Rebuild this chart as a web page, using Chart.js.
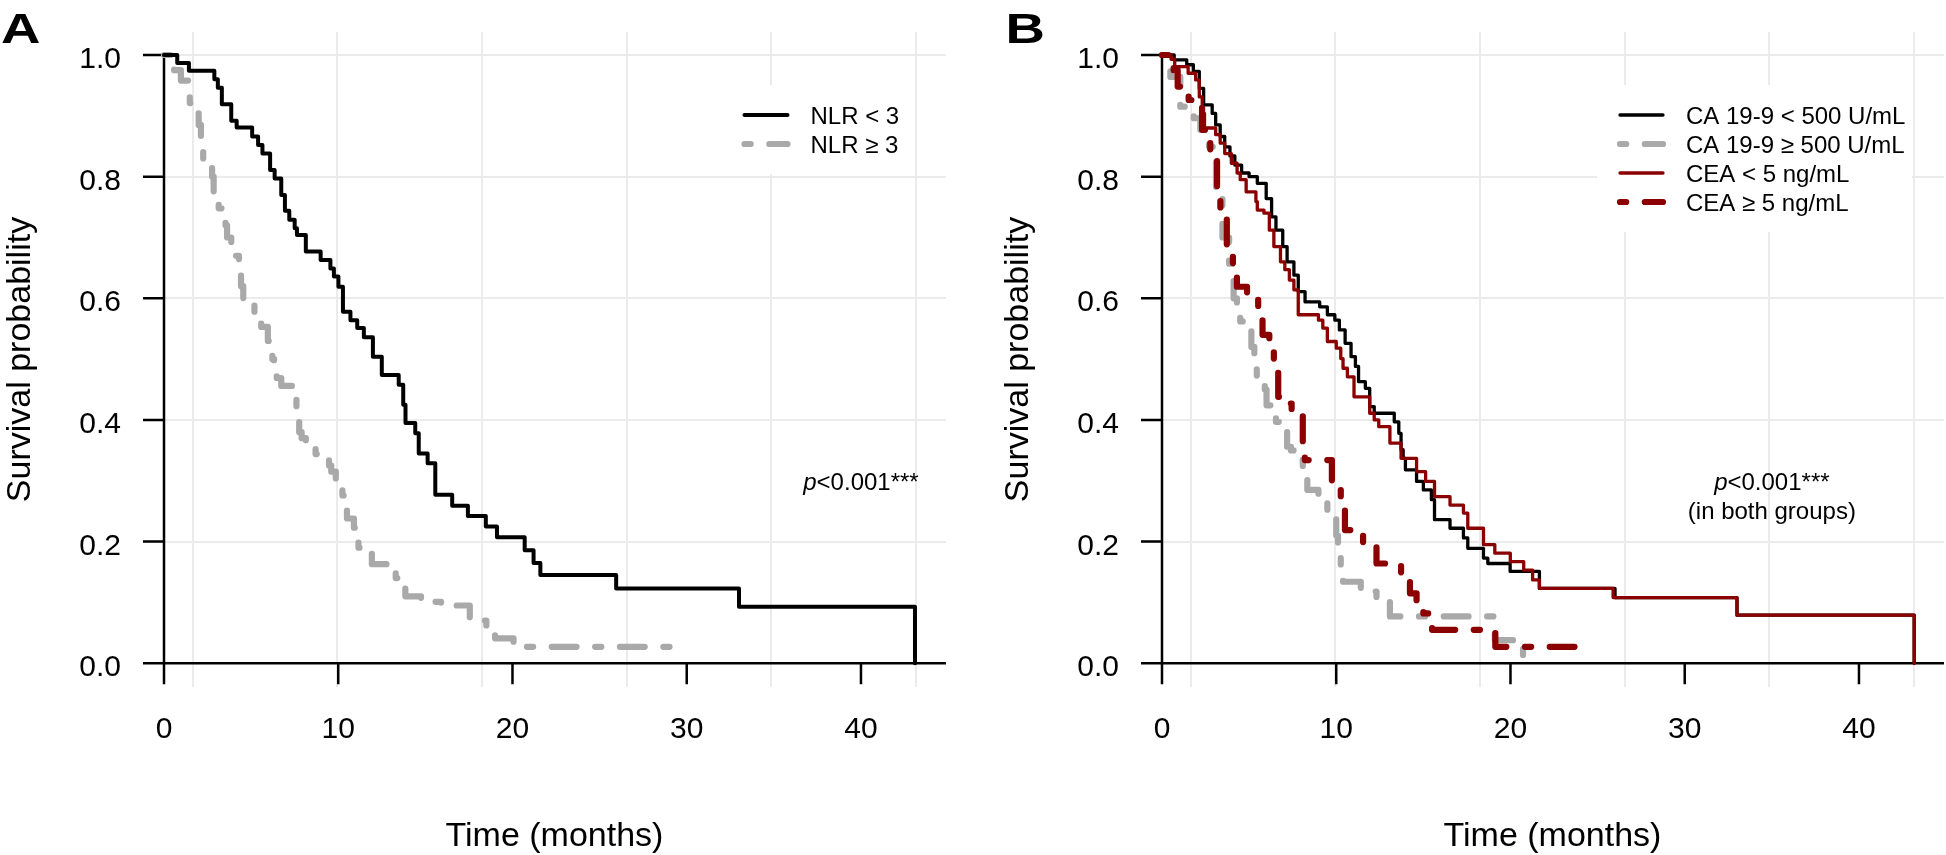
<!DOCTYPE html>
<html>
<head>
<meta charset="utf-8">
<script src="https://cdn.jsdelivr.net/npm/chart.js@4"></script>
<style>
  body { margin: 0; background: #ffffff; width: 1946px; height: 855px; position: relative; overflow: hidden; }
  canvas { position: absolute; top: 0; }
  #chartA { left: 0; }
  #chartB { left: 998px; }
</style>
</head>
<body>
<canvas id="chartA" width="948" height="855"></canvas>
<canvas id="chartB" width="948" height="855"></canvas>
<script>
// Panel A: Kaplan-Meier by NLR (time in months, survival probability)
const nlrLowTime = [0, 0.76, 1.43, 2.89, 3.09, 3.32, 3.86, 4.17, 5.06, 5.4, 5.65, 6.09, 6.35, 6.73, 6.94, 7.19, 7.5, 7.63, 8.14, 8.99, 9.55, 9.75, 10.01, 10.27, 10.7, 11.09, 11.47, 11.99, 12.5, 13.47, 13.73, 13.86, 14.42, 14.62, 15.13, 15.57, 16.54, 17.44, 18.47, 19.11, 20.7, 21.21, 21.6, 25.95, 33.0, 43.1];
const nlrLowSurv = [1, 0.987, 0.974, 0.960, 0.946, 0.919, 0.892, 0.881, 0.866, 0.852, 0.838, 0.811, 0.797, 0.770, 0.744, 0.729, 0.715, 0.704, 0.677, 0.663, 0.649, 0.636, 0.619, 0.578, 0.564, 0.551, 0.536, 0.504, 0.474, 0.458, 0.425, 0.395, 0.378, 0.345, 0.329, 0.277, 0.259, 0.242, 0.225, 0.207, 0.186, 0.165, 0.145, 0.123, 0.093, 0];
const nlrHighTime = [0, 0.58, 0.97, 1.48, 1.99, 2.12, 2.25, 2.76, 2.85, 3.14, 3.53, 3.62, 3.86, 4.30, 4.42, 4.55, 5.19, 5.58, 5.96, 6.22, 6.32, 6.47, 6.73, 7.37, 7.6, 7.76, 7.9, 8.14, 8.7, 9.47, 9.6, 9.86, 10.24, 10.35, 10.5, 10.9, 11.0, 11.16, 11.93, 13.2, 13.3, 13.85, 14.75, 15.9, 17.55, 18.5, 19.0, 20.06, 29.5];
const nlrHighSurv = [1, 0.975, 0.958, 0.921, 0.885, 0.85, 0.827, 0.80, 0.77, 0.748, 0.72, 0.70, 0.67, 0.645, 0.62, 0.60, 0.578, 0.553, 0.53, 0.50, 0.485, 0.469, 0.456, 0.435, 0.415, 0.38, 0.37, 0.36, 0.344, 0.325, 0.315, 0.299, 0.276, 0.268, 0.238, 0.223, 0.215, 0.19, 0.163, 0.15, 0.14, 0.11, 0.101, 0.095, 0.07, 0.055, 0.041, 0.027, 0.027];

// Panel B: Kaplan-Meier by CA 19-9 and CEA
const ca199LowTime = [0, 0.70, 1.42, 1.80, 2.14, 2.39, 2.88, 3.08, 3.34, 3.6, 3.9, 4.18, 4.57, 5.0, 5.47, 5.98, 6.29, 6.54, 6.93, 7.18, 7.57, 7.82, 8.21, 9.05, 9.49, 9.92, 10.18, 10.51, 10.85, 11.1, 11.28, 11.67, 11.92, 12.18, 13.33, 13.59, 13.72, 13.84, 13.97, 14.61, 15.0, 15.46, 15.64, 16.53, 17.3, 17.55, 18.45, 18.7, 19.98, 21.66, 26.0, 33.0, 43.17];
const ca199LowSurv = [1, 0.992, 0.984, 0.973, 0.945, 0.918, 0.904, 0.885, 0.866, 0.849, 0.834, 0.819, 0.806, 0.800, 0.789, 0.764, 0.734, 0.712, 0.685, 0.660, 0.638, 0.611, 0.594, 0.586, 0.573, 0.564, 0.548, 0.526, 0.504, 0.488, 0.463, 0.452, 0.422, 0.411, 0.397, 0.378, 0.351, 0.337, 0.318, 0.299, 0.285, 0.269, 0.236, 0.222, 0.206, 0.189, 0.173, 0.164, 0.151, 0.123, 0.108, 0.079, 0];
const ca199HighTime = [0, 0.48, 1.05, 1.82, 2.2, 2.7, 3.1, 3.47, 3.85, 4.11, 4.3, 4.49, 5.13, 5.3, 5.44, 5.9, 6.0, 6.54, 7.18, 7.4, 7.57, 8.08, 8.34, 8.98, 9.49, 10.0, 10.1, 10.26, 10.39, 11.41, 12.31, 13.08, 19.1, 20.72];
const ca199HighSurv = [1, 0.964, 0.915, 0.896, 0.877, 0.849, 0.78, 0.70, 0.657, 0.60, 0.59, 0.562, 0.52, 0.509, 0.471, 0.45, 0.424, 0.397, 0.356, 0.35, 0.345, 0.315, 0.285, 0.268, 0.244, 0.21, 0.192, 0.157, 0.134, 0.118, 0.104, 0.077, 0.038, 0];
const ceaLowTime = [0, 0.52, 0.73, 1.5, 1.93, 2.14, 2.31, 2.44, 3.08, 3.34, 3.6, 3.98, 4.31, 4.49, 4.83, 5.39, 5.47, 5.85, 6.16, 6.42, 6.8, 7.05, 7.31, 7.57, 7.82, 8.98, 9.23, 9.49, 10.0, 10.26, 10.39, 10.64, 11.02, 11.92, 12.18, 12.44, 13.08, 13.72, 14.61, 15.13, 15.64, 16.53, 17.3, 17.55, 18.45, 19.1, 19.99, 20.76, 21.27, 21.66, 25.89, 33.0, 43.17];
const ceaLowSurv = [1, 0.993, 0.981, 0.970, 0.959, 0.931, 0.904, 0.880, 0.869, 0.855, 0.838, 0.822, 0.806, 0.795, 0.775, 0.759, 0.745, 0.740, 0.712, 0.685, 0.660, 0.647, 0.630, 0.614, 0.573, 0.564, 0.551, 0.529, 0.518, 0.501, 0.485, 0.471, 0.438, 0.411, 0.400, 0.389, 0.362, 0.337, 0.315, 0.299, 0.274, 0.260, 0.247, 0.222, 0.195, 0.181, 0.167, 0.153, 0.137, 0.123, 0.108, 0.079, 0];
const ceaHighTime = [0, 0.67, 0.9, 1.53, 2.3, 2.77, 3.16, 3.35, 3.72, 4.07, 4.3, 4.88, 5.52, 5.77, 6.16, 6.42, 6.67, 6.93, 7.44, 8.08, 8.2, 9.75, 10.26, 10.5, 11.54, 12.31, 13.72, 14.23, 14.61, 15.0, 15.5, 19.13, 24.1];
const ceaHighSurv = [1, 0.975, 0.948, 0.926, 0.877, 0.844, 0.783, 0.745, 0.685, 0.658, 0.619, 0.60, 0.586, 0.54, 0.531, 0.50, 0.438, 0.427, 0.41, 0.359, 0.334, 0.30, 0.27, 0.219, 0.192, 0.164, 0.142, 0.115, 0.099, 0.082, 0.055, 0.027, 0.027];

// Axis ticks
const xTicks = [0, 10, 20, 30, 40];
const xTickLabels = ['0', '10', '20', '30', '40'];
const yTicks = [0, 0.2, 0.4, 0.6, 0.8, 1.0];
const yTickLabels = ['0.0', '0.2', '0.4', '0.6', '0.8', '1.0'];

const FONT = '"Liberation Sans", Arial, Helvetica, sans-serif';
const GREY = '#a9a9a9';
const DARKRED = '#8b0000';

// Turn a time array and a survival array into chart points
function toPoints(times, surv) {
  return times.map((t, i) => ({ x: t, y: surv[i] }));
}

// R style "dotdash" line (1 on, 3 off, 4 on, 3 off) in units of line width
function dotDash(w) {
  return [w, 3 * w, 4 * w, 3 * w];
}

function makeDataset(label, times, surv, color, width, dashed, order) {
  return {
    label: label,
    data: toPoints(times, surv),
    borderColor: color,
    borderWidth: width,
    borderDash: dashed ? dotDash(width) : [],
    borderCapStyle: 'round',
    borderJoinStyle: 'round',
    stepped: true,
    pointRadius: 0,
    fill: false,
    order: order
  };
}

// Plugin that draws axes, tick labels, titles, legend and annotation
const decor = {
  id: 'decor',
  beforeDatasetsDraw(chart, args, opts) {
    const ctx = chart.ctx;
    const area = chart.chartArea;
    const x = chart.scales.x;
    const y = chart.scales.y;
    const x0 = x.getPixelForValue(0);
    const y0 = y.getPixelForValue(0);
    const y1 = y.getPixelForValue(1);
    const sets = chart.data.datasets;
    ctx.save();

    // Legend: white box hides the grid behind it
    const lx = opts.legendX, ly = opts.legendY, step = 29;
    ctx.fillStyle = '#ffffff';
    ctx.fillRect(lx - 23, ly - 30, opts.legendW, (sets.length - 1) * step + 60);
    ctx.font = '24px ' + FONT;
    ctx.textAlign = 'left';
    ctx.textBaseline = 'alphabetic';
    sets.forEach((ds, i) => {
      const ry = ly + i * step;
      ctx.strokeStyle = ds.borderColor;
      ctx.lineWidth = ds.borderWidth;
      ctx.lineCap = 'round';
      ctx.setLineDash(ds.borderDash);
      ctx.beginPath();
      ctx.moveTo(lx, ry);
      ctx.lineTo(lx + 43, ry);
      ctx.stroke();
      ctx.setLineDash([]);
      ctx.fillStyle = '#000000';
      ctx.fillText(ds.label, lx + 66, ry + 8.5);
    });

    // Axis lines and tick marks
    ctx.strokeStyle = '#000000';
    ctx.lineWidth = 2.5;
    ctx.lineCap = 'butt';
    ctx.beginPath();
    ctx.moveTo(area.left, y0);
    ctx.lineTo(area.right, y0);
    ctx.moveTo(x0, y1);
    ctx.lineTo(x0, y0);
    xTicks.forEach(v => {
      const px = x.getPixelForValue(v);
      ctx.moveTo(px, y0);
      ctx.lineTo(px, y0 + 21);
    });
    yTicks.forEach(v => {
      const py = y.getPixelForValue(v);
      ctx.moveTo(x0, py);
      ctx.lineTo(x0 - 21, py);
    });
    ctx.stroke();

    // Tick labels
    ctx.fillStyle = '#000000';
    ctx.font = '30px ' + FONT;
    ctx.textAlign = 'center';
    xTicks.forEach((v, i) => ctx.fillText(xTickLabels[i], x.getPixelForValue(v), y0 + 75));
    ctx.textAlign = 'right';
    yTicks.forEach((v, i) => ctx.fillText(yTickLabels[i], x0 - 43, y.getPixelForValue(v) + 13));

    // Axis titles
    ctx.font = '34px ' + FONT;
    ctx.textAlign = 'center';
    ctx.fillText('Time (months)', (area.left + area.right) / 2 + 10, 846);
    ctx.save();
    ctx.translate(30, (area.top + area.bottom) / 2);
    ctx.rotate(-Math.PI / 2);
    ctx.fillText('Survival probability', 0, 0);
    ctx.restore();

    // p-value note: italic "p" followed by normal text
    const px = x.getPixelForValue(opts.pAt);
    let py = y.getPixelForValue(0.3) + 9;
    ctx.textAlign = 'left';
    ctx.font = 'italic 24px ' + FONT;
    const wp = ctx.measureText('p').width;
    ctx.font = '24px ' + FONT;
    const wr = ctx.measureText('<0.001***').width;
    let sx = px - (wp + wr) / 2;
    ctx.font = 'italic 24px ' + FONT;
    ctx.fillText('p', sx, py);
    ctx.font = '24px ' + FONT;
    ctx.fillText('<0.001***', sx + wp, py);
    ctx.textAlign = 'center';
    opts.pExtra.forEach(line => {
      py += 29;
      ctx.fillText(line, px, py);
    });

    // Panel letter
    ctx.save();
    ctx.font = 'bold 42px ' + FONT;
    ctx.textAlign = 'left';
    ctx.translate(opts.letterX, 43);
    ctx.scale(1.3, 1);
    ctx.fillText(opts.letter, 0, 0);
    ctx.restore();

    ctx.restore();
  }
};

// Grid lines of the background sit every 8.3 months starting at 1.65
function gridTicks(scale) {
  const ticks = [];
  for (let k = 0; k < 6; k++) {
    ticks.push({ value: 1.65 + 8.3 * k });
  }
  scale.ticks = ticks;
}

function makeChart(canvasId, datasets, decorOptions) {
  const ctx = document.getElementById(canvasId);
  return new Chart(ctx, {
    type: 'line',
    data: { datasets: datasets },
    plugins: [decor],
    options: {
      responsive: false,
      animation: false,
      layout: { padding: { left: 143, right: 2, top: 32, bottom: 168 } },
      scales: {
        x: {
          type: 'linear',
          min: -1.205,
          max: 44.88,
          afterBuildTicks: gridTicks,
          ticks: { display: false },
          border: { display: false },
          grid: { color: '#ebebeb', lineWidth: 2, drawTicks: false }
        },
        y: {
          type: 'linear',
          min: -0.039,
          max: 1.0378,
          afterBuildTicks: scale => { scale.ticks = yTicks.map(v => ({ value: v })); },
          ticks: { display: false },
          border: { display: false },
          grid: { color: '#ebebeb', lineWidth: 2, drawTicks: false }
        }
      },
      plugins: {
        legend: { display: false },
        tooltip: { enabled: false },
        decor: decorOptions
      }
    }
  });
}

makeChart('chartA', [
  makeDataset('NLR < 3', nlrLowTime, nlrLowSurv, '#000000', 4, false, 1),
  makeDataset('NLR \u2265 3', nlrHighTime, nlrHighSurv, GREY, 6.2, true, 2)
], { letter: 'A', letterX: 1, legendX: 744.5, legendY: 115, legendW: 183, pAt: 40, pExtra: [] });

makeChart('chartB', [
  makeDataset('CA 19-9 < 500 U/mL', ca199LowTime, ca199LowSurv, '#000000', 3.3, false, 4),
  makeDataset('CA 19-9 \u2265 500 U/mL', ca199HighTime, ca199HighSurv, GREY, 6.2, true, 3),
  makeDataset('CEA < 5 ng/mL', ceaLowTime, ceaLowSurv, DARKRED, 3.3, false, 2),
  makeDataset('CEA \u2265 5 ng/mL', ceaHighTime, ceaHighSurv, DARKRED, 6.2, true, 1)
], { letter: 'B', letterX: 7.6, legendX: 622, legendY: 115, legendW: 315, pAt: 35, pExtra: ['(in both groups)'] });
</script>
</body>
</html>
